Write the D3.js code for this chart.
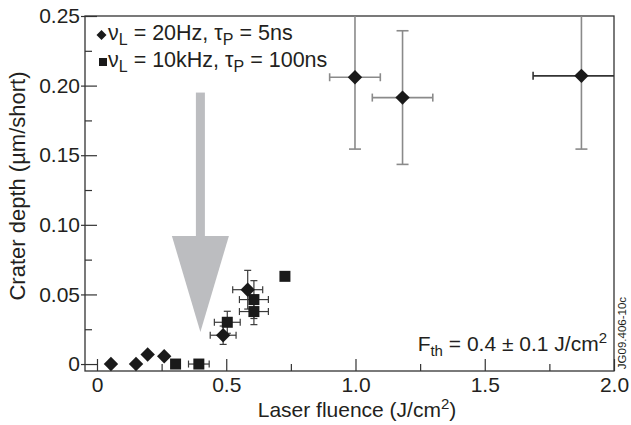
<!DOCTYPE html>
<html>
<head>
<meta charset="utf-8">
<script src="https://cdn.jsdelivr.net/npm/d3@7"></script>
<style>
  body { margin: 0; background: #fff; }
  text { font-family: "Liberation Sans", Arial, Helvetica, sans-serif; fill: #231f20; }
</style>
</head>
<body>
<div id="chart"></div>
<script>
// nu_L = 20Hz, tau_P = 5ns  (diamonds)
var diamondF    = [0.054, 0.151, 0.196, 0.26, 0.488, 0.583, 0.998, 1.182, 1.874];
var diamondD    = [0, 0, 0.0068, 0.0056, 0.0207, 0.0534, 0.206, 0.1914, 0.207];
var diamondFErr = [0, 0, 0, 0, 0.05, 0.058, 0.098, 0.117, 0.187];
var diamondDErr = [0, 0, 0, 0, 0.0066, 0.0139, 0.0516, 0.048, 0.0526];

// nu_L = 10kHz, tau_P = 100ns  (squares)
var squareF    = [0.304, 0.394, 0.504, 0.607, 0.607, 0.727];
var squareD    = [0, 0, 0.030, 0.0463, 0.0377, 0.063];
var squareFErr = [0, 0.04, 0.05, 0.056, 0.056, 0];
var squareDErr = [0, 0, 0.0079, 0.0136, 0.0094, 0];

var xTicks = [0, 0.5, 1.0, 1.5, 2.0];
var xTickLabels = ["0", "0.5", "1.0", "1.5", "2.0"];
var xMinor = [0.25, 0.75, 1.25, 1.75];
var yTicks = [0, 0.05, 0.10, 0.15, 0.20, 0.25];
var yTickLabels = ["0", "0.05", "0.10", "0.15", "0.20", "0.25"];
var yMinor = [0.025, 0.075, 0.125, 0.175, 0.225];

// threshold arrow (fluence, shaft top, head base, tip)
var arrowF = 0.4, arrowTop = 0.195, arrowBase = 0.092, arrowTip = 0.023;

var width = 631, height = 425;
var plotL = 85, plotR = 614, plotT = 16, plotB = 371;

var x = d3.scaleLinear().domain([-0.0464, 2.0]).range([plotL, plotR]);
var y = d3.scaleLinear().domain([-0.005, 0.25]).range([plotB, plotT]);

var svg = d3.select("#chart").append("svg")
    .attr("width", width)
    .attr("height", height);

svg.append("defs").append("clipPath").attr("id", "plot")
  .append("rect")
    .attr("x", plotL).attr("y", plotT)
    .attr("width", plotR - plotL).attr("height", plotB - plotT);

// grey arrow
var ax = x(arrowF);
svg.append("rect")
    .attr("x", ax - 4.5).attr("y", y(arrowTop))
    .attr("width", 9).attr("height", y(arrowBase) - y(arrowTop) + 1)
    .attr("fill", "#bcbdc0");
svg.append("path")
    .attr("d", "M" + (ax - 28.5) + "," + y(arrowBase) + "L" + (ax + 28.5) + "," + y(arrowBase) +
               "L" + ax + "," + y(arrowTip) + "Z")
    .attr("fill", "#bcbdc0");

// axes
svg.append("g")
    .attr("transform", "translate(0," + plotB + ")")
    .call(d3.axisBottom(x).tickValues(xTicks)
      .tickFormat(function(d, i) { return xTickLabels[i]; })
      .tickSizeInner(-12).tickSizeOuter(0).tickPadding(6));
svg.append("g")
    .attr("transform", "translate(0," + plotB + ")")
    .call(d3.axisBottom(x).tickValues(xMinor).tickFormat("")
      .tickSizeInner(-7).tickSizeOuter(0));

var yAxis = svg.append("g")
    .attr("transform", "translate(" + plotL + ",0)")
    .call(d3.axisLeft(y).tickValues(yTicks)
      .tickFormat(function(d, i) { return yTickLabels[i]; })
      .tickSizeInner(-12).tickSizeOuter(0).tickPadding(5));
yAxis.selectAll(".tick line").attr("x1", -4);
svg.append("g")
    .attr("transform", "translate(" + plotL + ",0)")
    .call(d3.axisLeft(y).tickValues(yMinor).tickFormat("")
      .tickSizeInner(-7).tickSizeOuter(0));

svg.selectAll(".domain").remove();
svg.selectAll(".tick line").attr("stroke", "#333").attr("stroke-width", 1.2);
svg.selectAll(".tick text")
    .attr("font-size", 21)
    .attr("font-family", "Liberation Sans, Arial, sans-serif")
    .attr("fill", "#231f20");

// frame
svg.append("rect")
    .attr("x", plotL).attr("y", plotT)
    .attr("width", plotR - plotL).attr("height", plotB - plotT)
    .attr("fill", "none").attr("stroke", "#333").attr("stroke-width", 1.3);

// error bars
var plot = svg.append("g").attr("clip-path", "url(#plot)");

function errorBars(F, D, FErr, DErr) {
  F.forEach(function(f, i) {
    var big = D[i] > 0.1;
    var col = big ? "#8a8a8a" : "#3a3a3a";
    var sw = big ? 1.6 : 1.2;
    var cv = big ? 6 : 3.5, ch = big ? 4 : 3.5;
    var cx = x(f), cy = y(D[i]);
    if (DErr[i] > 0) {
      var y0 = y(D[i] - DErr[i]), y1 = y(D[i] + DErr[i]);
      plot.append("line").attr("x1", cx).attr("x2", cx).attr("y1", y0).attr("y2", y1)
          .attr("stroke", col).attr("stroke-width", sw);
      [y0, y1].forEach(function(yy) {
        plot.append("line").attr("x1", cx - cv).attr("x2", cx + cv).attr("y1", yy).attr("y2", yy)
            .attr("stroke", col).attr("stroke-width", sw);
      });
    }
    if (FErr[i] > 0) {
      var x0 = x(f - FErr[i]), x1 = x(f + FErr[i]);
      var hc = (big && i === F.length - 1) ? "#333" : col;
      plot.append("line").attr("x1", x0).attr("x2", x1).attr("y1", cy).attr("y2", cy)
          .attr("stroke", hc).attr("stroke-width", sw);
      [x0, x1].forEach(function(xx) {
        plot.append("line").attr("x1", xx).attr("x2", xx).attr("y1", cy - ch).attr("y2", cy + ch)
            .attr("stroke", hc).attr("stroke-width", sw);
      });
    }
  });
}
errorBars(diamondF, diamondD, diamondFErr, diamondDErr);
errorBars(squareF, squareD, squareFErr, squareDErr);

function diamond(r) {
  return "M0," + (-r) + "L" + r + ",0L0," + r + "L" + (-r) + ",0Z";
}

svg.selectAll(".diamond")
  .data(diamondF)
  .enter().append("path")
    .attr("class", "diamond")
    .attr("d", diamond(7.2))
    .attr("transform", function(d, i) { return "translate(" + x(d) + "," + y(diamondD[i]) + ")"; })
    .attr("fill", "#1a1a1a");

svg.selectAll(".square")
  .data(squareF)
  .enter().append("rect")
    .attr("class", "square")
    .attr("x", function(d) { return x(d) - 5.5; })
    .attr("y", function(d, i) { return y(squareD[i]) - 5.5; })
    .attr("width", 11).attr("height", 11)
    .attr("fill", "#1a1a1a");

// legend
svg.append("path").attr("d", diamond(5)).attr("transform", "translate(101.5,35)").attr("fill", "#1a1a1a");
svg.append("rect").attr("x", 99).attr("y", 58).attr("width", 8).attr("height", 8).attr("fill", "#1a1a1a");

function subText(xp, yp, parts, anchor, size, small) {
  size = size || 21; small = small || 15;
  var t = svg.append("text").attr("x", xp).attr("y", yp).attr("font-size", size)
      .attr("text-anchor", anchor || "start");
  var shift = 0;
  parts.forEach(function(p) {
    var target = p[1] === "sub" ? 5 : (p[1] === "sup" ? -8 : 0);
    var ts = t.append("tspan").text(p[0]).attr("dy", target - shift);
    if (p[1]) ts.attr("font-size", small);
    shift = target;
  });
  return t;
}

subText(108, 40, [["\u03bd"], ["L", "sub"], [" = 20Hz, \u03c4"], ["P", "sub"], [" = 5ns"]], "start", 21.5, 16);
subText(108, 67, [["\u03bd"], ["L", "sub"], [" = 10kHz, \u03c4"], ["P", "sub"], [" = 100ns"]], "start", 21.5, 16);
subText(607, 351, [["F"], ["th", "sub"], [" = 0.4 \u00b1 0.1 J/cm"], ["2", "sup"]], "end");

// axis titles
subText(357, 417, [["Laser fluence (J/cm"], ["2", "sup"], [")"]], "middle");
svg.append("text")
    .attr("transform", "translate(25,186) rotate(-90)")
    .attr("text-anchor", "middle")
    .attr("font-size", 22)
    .text("Crater depth (\u00b5m/short)");

svg.append("text")
    .attr("transform", "translate(626,333) rotate(-90)")
    .attr("text-anchor", "middle")
    .attr("font-size", 11.5)
    .text("JG09.406-10c");
</script>
</body>
</html>
